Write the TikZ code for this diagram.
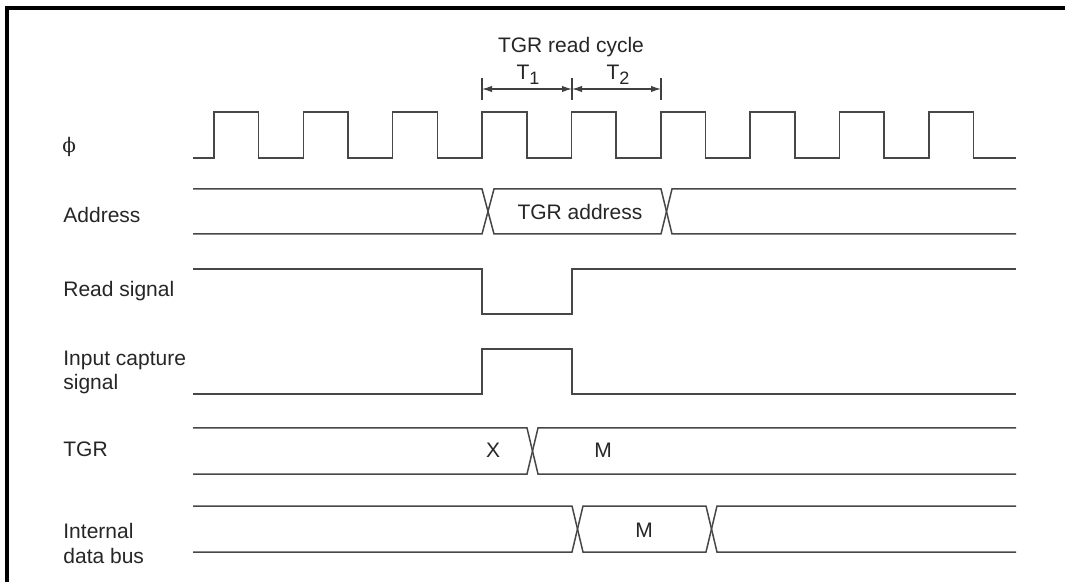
\documentclass[tikz,border=0pt]{standalone}
\usepackage{fontspec}
\setmainfont{Liberation Sans}
\newfontfamily\phifont{DejaVu Serif}
\usetikzlibrary{arrows.meta}
\begin{document}
\begin{tikzpicture}[x=0.5pt,y=-0.5pt,
  sig/.style={draw=black!72,line width=0.75pt,line join=miter},
  lbl/.style={inner sep=0pt,anchor=base west,text=black!85,font=\fontsize{10.5}{12.5}\selectfont},
  txt/.style={inner sep=0pt,anchor=base,text=black!85,font=\fontsize{10.5}{12.5}\selectfont},
  tick/.style={draw=black!75,line width=0.6pt},
  dim/.style={draw=black!75,line width=0.6pt,{Latex[length=5pt,width=3.2pt]}-{Latex[length=5pt,width=3.2pt]}},
  frame/.style={draw=black,line width=1.6pt,line join=miter}]
\useasboundingbox (0,0) rectangle (1065,582);
\fill[white] (0,0) rectangle (1065,582);
\draw[frame] (7,590) -- (7,8) -- (1075,8);

% labels
\node[lbl] (lphi) at (62,153) {{\phifont\fontsize{10}{12}\selectfont ϕ}};
\node[lbl] (laddr) at (63,223) {Address};
\node[lbl] (lread) at (63,297) {Read signal};
\node[lbl] (lic1) at (63,365) {Input capture};
\node[lbl] (lic2) at (63,390) {signal};
\node[lbl] (ltgr) at (63,457) {TGR};
\node[lbl] (lib1) at (63,538) {Internal};
\node[lbl] (lib2) at (63,563) {data bus};

% read cycle annotation
\node[txt] (cyc) at (571,53) {TGR read cycle};
\node[txt] (t1) at (528,80) {T\raisebox{-0.45ex}{\fontsize{9}{10}\selectfont 1}};
\node[txt] (t2) at (618,80) {T\raisebox{-0.45ex}{\fontsize{9}{10}\selectfont 2}};
\coordinate (k1t) at (482,78); \coordinate (k1b) at (482,100);
\coordinate (k2t) at (572,78); \coordinate (k2b) at (572,100);
\coordinate (k3t) at (661,78); \coordinate (k3b) at (661,100);
\draw[tick] (k1t) -- (k1b);
\draw[tick] (k2t) -- (k2b);
\draw[tick] (k3t) -- (k3b);
\coordinate (a1) at (482,89); \coordinate (a2) at (572,89); \coordinate (a3) at (661,89);
\draw[dim] (a1) -- (a2);
\draw[dim] (a2) -- (a3);

% clock
\draw[sig] (193,158) foreach \k in {0,...,8} {
  -- ({214+89.35*\k},158) -- ({214+89.35*\k},112)
  -- ({258.7+89.35*\k},112) -- ({258.7+89.35*\k},158) } -- (1016,158);

% address
\draw[sig] (193,189) -- (482,189) -- (494,234) -- (661,234) -- (672,189) -- (1016,189);
\draw[sig] (193,234) -- (482,234) -- (494,189) -- (661,189) -- (672,234) -- (1016,234);
\node[txt] (addr) at (580,220) {TGR address};

% read signal
\draw[sig] (193,269) -- (482,269) -- (482,314) -- (572,314) -- (572,269) -- (1016,269);

% input capture
\draw[sig] (193,394) -- (482,394) -- (482,349) -- (572,349) -- (572,394) -- (1016,394);

% TGR
\draw[sig] (193,428) -- (527,428) -- (538,474) -- (1016,474);
\draw[sig] (193,474) -- (527,474) -- (538,428) -- (1016,428);
\node[txt] (tx) at (493,458) {X};
\node[txt] (tm) at (603,458) {M};

% internal data bus
\draw[sig] (193,506) -- (572,506) -- (583,552) -- (706,552) -- (717,506) -- (1016,506);
\draw[sig] (193,552) -- (572,552) -- (583,506) -- (706,506) -- (717,552) -- (1016,552);
\node[txt] (bm) at (644,537) {M};
\end{tikzpicture}
\end{document}
